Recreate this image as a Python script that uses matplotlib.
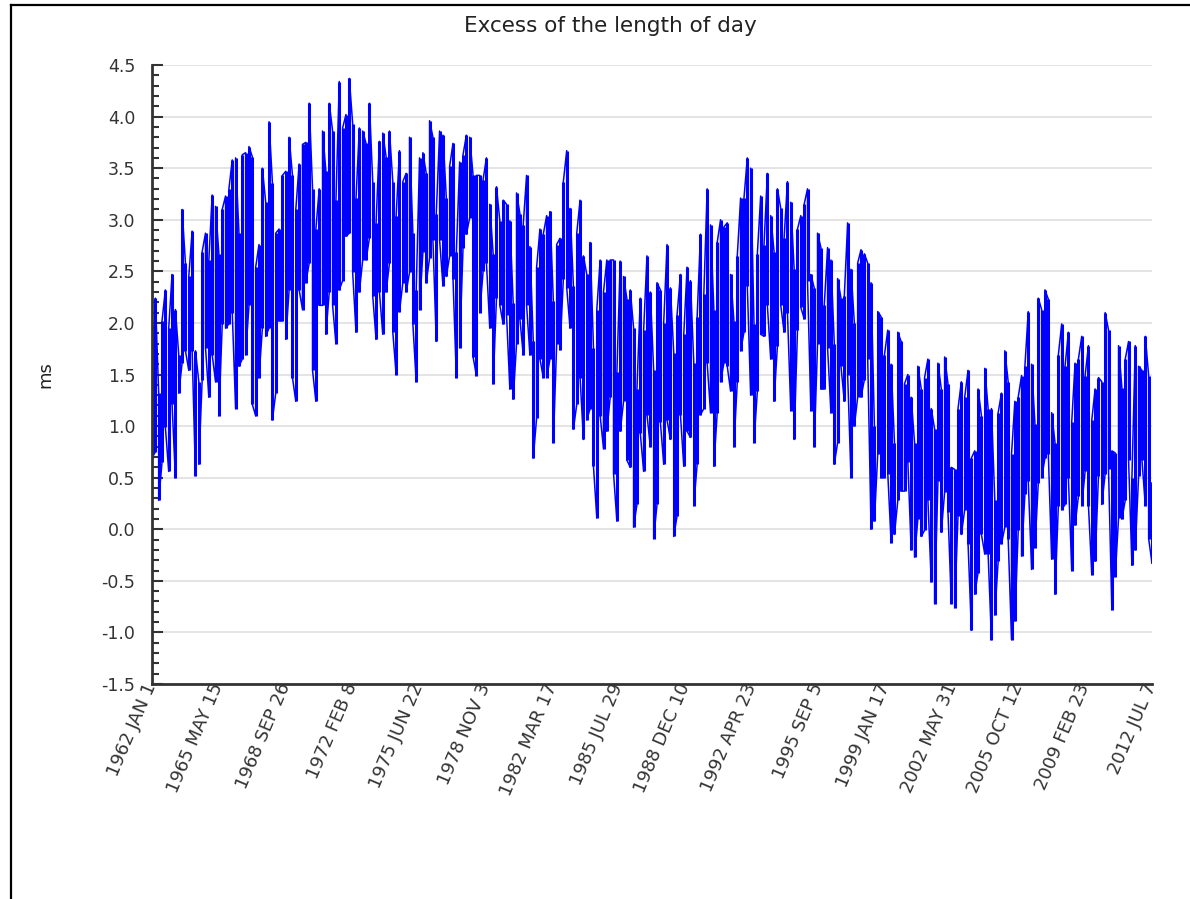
import numpy as np
import matplotlib
matplotlib.use("Agg")
import matplotlib.pyplot as plt
from matplotlib.ticker import MultipleLocator, FormatStrFormatter
from matplotlib.lines import Line2D

# excess length of day (ms): upper / lower extent per sample
# samples are evenly spaced from 1962 JAN 1 to 2012 JUL 7
lod_high = [
    1.98, 2.24, 1.32, 2.02, 2.32, 1.95, 2.47, 2.13, 1.69, 3.10,
    2.58, 2.45, 2.89, 1.73, 1.43, 2.69, 2.87, 2.61, 3.24, 3.13,
    2.67, 3.10, 3.23, 3.30, 3.58, 3.60, 2.87, 3.63, 3.65, 3.71,
    3.61, 2.54, 2.76, 3.50, 3.17, 3.95, 3.36, 2.87, 2.91, 3.43,
    3.47, 3.80, 3.43, 3.10, 3.54, 3.73, 3.75, 4.13, 3.30,
    2.91, 3.30, 3.86, 3.47, 4.13, 3.86, 3.19, 4.34, 3.89, 4.02,
    4.37, 3.93, 3.21, 3.89, 3.86, 3.74, 4.13, 3.37, 2.97, 3.76,
    3.84, 3.61, 3.86, 3.37, 3.04, 3.67, 3.37, 3.45, 3.80, 2.87,
    2.32, 3.60, 3.65, 3.45, 3.96, 3.80, 3.06, 3.86, 3.82, 3.21,
    3.52, 3.74, 2.69, 3.56, 3.63, 3.82, 3.80, 3.43, 3.43, 3.43,
    3.39, 3.60, 3.15, 2.67, 3.32, 2.99, 3.19, 3.15, 2.99, 2.19,
    3.26, 3.06, 2.95, 3.43, 2.74, 1.82, 2.54, 2.91, 2.86, 3.04,
    3.08, 2.21, 2.76, 2.82, 3.37, 3.67, 3.11, 2.36, 2.87, 3.19,
    2.65, 2.47, 2.78, 1.76, 2.13, 2.61, 2.30, 2.61, 2.61, 2.61,
    1.52, 2.60, 2.45, 2.23, 2.32, 1.95, 1.36, 2.24, 1.93, 2.65,
    2.30,
    1.54, 2.39, 2.32, 2.00, 2.76, 2.34, 1.71, 2.08, 2.47, 1.89,
    2.54, 2.41, 1.61, 2.06, 2.86, 2.28, 3.30, 2.95, 2.13, 2.78,
    3.00, 2.93, 2.97, 2.47, 2.02, 2.65, 3.21, 3.21, 3.60, 3.50,
    1.99, 2.67, 3.23, 2.76, 3.45, 3.04, 2.69, 3.30, 3.11, 2.82,
    3.37, 3.17, 2.52, 2.91, 3.04, 3.15, 3.30, 2.47, 2.34, 2.87,
    2.73,
    2.17, 2.73, 2.61, 1.80, 2.43, 2.24, 2.26, 2.97, 2.52, 2.00,
    2.58, 2.71, 2.67, 2.58, 2.39, 1.00, 2.11, 2.06, 1.69, 1.93,
    1.60, 0.84, 1.91, 1.82, 1.41, 1.50, 1.28, 0.84, 1.58, 1.36,
    1.47, 1.65, 1.17, 0.97, 1.61, 1.36, 1.67, 1.41, 0.60, 0.58,
    1.17, 1.43, 1.28, 1.54, 0.69, 0.76, 1.36, 1.10, 1.56, 1.17,
    1.17, 0.28, 1.13, 1.32, 1.73, 1.43, 0.73, 1.24, 1.28, 1.49,
    1.58, 2.11, 1.60, 1.02, 2.24, 2.13, 2.32, 2.23, 1.13, 0.84,
    1.69, 1.99, 1.58, 1.91, 1.04, 1.61, 1.65, 1.87, 1.49, 1.78,
    1.06, 1.36, 1.47, 1.43, 2.10, 1.93, 0.76, 0.74, 1.78, 1.37,
    1.65, 1.82, 0.50, 1.78, 1.58, 1.54, 1.87, 1.49, 0.45,
]
lod_low = [
    0.69, 0.75, 0.28, 0.65, 0.99, 0.56, 1.21, 0.50, 1.32, 1.61,
    1.73, 1.54, 1.73, 0.52, 0.63, 1.45, 1.76, 1.28, 1.69, 1.43,
    1.10, 1.99, 1.95, 1.99, 2.10, 1.17, 1.58, 1.65, 1.69, 2.17,
    1.21, 1.10, 1.47, 1.95, 1.87, 1.95, 1.06, 1.32, 2.02, 2.02,
    1.84, 2.32, 1.47, 1.24, 2.32, 2.13, 2.39, 2.58, 1.54,
    1.24, 2.17, 2.17, 1.89, 2.30, 2.17, 1.80, 2.32, 2.41, 2.84,
    2.87, 2.49, 1.91, 2.30, 2.61, 2.61, 2.82, 2.26, 1.84, 2.30,
    1.89, 2.30, 2.58, 1.91, 1.50, 2.11, 2.39, 2.30, 2.49, 1.99,
    1.43, 2.13, 2.69, 2.39, 2.63, 2.80, 1.82, 2.80, 2.36, 2.45,
    2.65, 2.43, 1.47, 1.76, 2.73, 2.86, 3.02, 1.67, 1.49, 2.10,
    2.50, 2.58, 1.95, 1.41, 2.24, 2.17, 1.99, 2.08, 1.36, 1.26,
    1.80, 2.04, 1.69, 2.17, 1.69, 0.69, 1.08, 1.65, 1.47, 1.47,
    1.65, 0.84, 1.80, 1.74, 2.43, 2.34, 1.95, 0.97, 1.21, 1.47,
    0.87, 1.06, 1.17, 0.61, 0.11, 1.10, 0.78, 0.95, 1.28, 0.54,
    0.08, 0.95, 1.24, 0.67, 0.60, 0.02, 0.24, 0.93, 0.56, 1.11,
    0.80,
    -0.09, 0.24, 1.04, 0.63, 1.06, 0.87, -0.07, 0.13, 1.11, 0.61,
    0.95, 0.89, 0.23, 0.63, 1.11, 1.17, 1.61, 1.13, 0.61, 1.13,
    1.43, 1.61, 1.58, 1.34, 0.80, 1.43, 1.73, 1.91, 2.36, 1.30,
    0.84, 1.34, 1.89, 1.87, 2.17, 1.65, 1.24, 1.78, 2.17, 1.91,
    2.10, 1.15, 0.87, 1.93, 2.15, 2.04, 2.41, 1.15, 0.80, 1.80,
    1.36,
    1.36, 1.76, 1.13, 0.63, 0.84, 1.58, 1.24, 1.50, 0.50, 1.00,
    1.28, 1.28, 1.45, 1.65, 0.00, 0.08, 0.73, 0.50, 0.50, 0.54,
    -0.13, -0.05, 0.28, 0.37, 0.37, 0.65, -0.20, -0.27, 0.10, -0.07,
    -0.01, 0.28, -0.51, -0.72, 0.47, -0.03, 0.36, 0.17, -0.72, -0.76,
    0.13, -0.05, 0.19, -0.14, -0.98, -0.63, -0.42, -0.05, -0.24, -0.24,
    -1.07, -0.83, -0.31, -0.14, 0.02, -0.09, -1.07, -0.89, -0.01, -0.26,
    0.34, 0.47, -0.39, -0.18, 0.45, 0.50, 0.69, 0.73, -0.29, -0.63,
    0.23, 0.19, 0.24, 0.50, -0.40, 0.04, 0.32, 0.23, 0.56, 0.23,
    -0.44, -0.31, 0.52, 0.24, 0.54, 0.58, -0.78, -0.46, 0.11, 0.10,
    0.28, 0.67, -0.35, -0.20, 0.52, 0.67, 0.23, -0.09, -0.33,
]

# date axis labels, every 1230 days from 1962 JAN 1
date_labels = ["1962 JAN 1", "1965 MAY 15", "1968 SEP 26", "1972 FEB 8",
               "1975 JUN 22", "1978 NOV 3", "1982 MAR 17", "1985 JUL 29",
               "1988 DEC 10", "1992 APR 23", "1995 SEP 5", "1999 JAN 17",
               "2002 MAY 31", "2005 OCT 12", "2009 FEB 23", "2012 JUL 7"]
label_step_days = 1230


def main():
    hi = np.array(lod_high)
    lo = np.array(lod_low)
    n = len(hi)
    total_days = label_step_days * (len(date_labels) - 1)
    days = np.linspace(0, total_days, n)

    fig = plt.figure(figsize=(11.9, 8.99), dpi=100)
    ax = fig.add_axes([152 / 1190, 1 - 684 / 899, 1000 / 1190, 619 / 899])

    # one vertical stroke per sample, from its low to its high value
    ax.vlines(days, lo, hi, color="#0000ff", linewidth=2.2)

    # thin trace linking the samples (hi->lo, lo->hi alternately) so the band is continuous
    pairs = np.column_stack([hi, lo])
    pairs[1::2] = pairs[1::2, ::-1]
    ax.plot(np.repeat(days, 2), pairs.ravel(), color="#0000ff", linewidth=1.1)

    ax.set_xlim(0, total_days)
    ax.set_ylim(-1.5, 4.5)

    ax.yaxis.set_major_locator(MultipleLocator(0.5))
    ax.yaxis.set_minor_locator(MultipleLocator(0.1))
    ax.yaxis.set_major_formatter(FormatStrFormatter("%.1f"))
    ax.grid(axis="y", color="#e2e2e2", linewidth=1.3)
    ax.set_axisbelow(True)

    ax.tick_params(axis="y", which="major", direction="in", length=8, width=1.5,
                   color="#333333", labelsize=12.5, labelcolor="#333333", pad=12)
    ax.tick_params(axis="y", which="minor", direction="in", length=5, width=1.5,
                   color="#333333")

    ax.set_xticks(np.arange(len(date_labels)) * label_step_days)
    ax.set_xticklabels(date_labels, rotation=67, ha="right", va="center",
                       rotation_mode="anchor", fontsize=13, color="#333333")
    ax.tick_params(axis="x", length=0, pad=0)

    for side in ["top", "right"]:
        ax.spines[side].set_visible(False)
    for side in ["left", "bottom"]:
        ax.spines[side].set_color("#333333")
        ax.spines[side].set_linewidth(2)

    fig.text(610 / 1190, 1 - 26 / 899, "Excess of the length of day", fontsize=15.5,
             color="#222222", ha="center", va="center")
    ax.set_ylabel("ms", fontsize=13, color="#222222", labelpad=34)

    # frame line on top and left edge of the figure
    fig.add_artist(Line2D([10.5 / 1190, 1], [1 - 4.5 / 899, 1 - 4.5 / 899],
                          color="black", linewidth=1.6, transform=fig.transFigure))
    fig.add_artist(Line2D([10.5 / 1190, 10.5 / 1190], [0, 1 - 4.5 / 899],
                          color="black", linewidth=1.6, transform=fig.transFigure))

    fig.savefig("out.png", dpi=100, facecolor="white")


if __name__ == "__main__":
    main()
